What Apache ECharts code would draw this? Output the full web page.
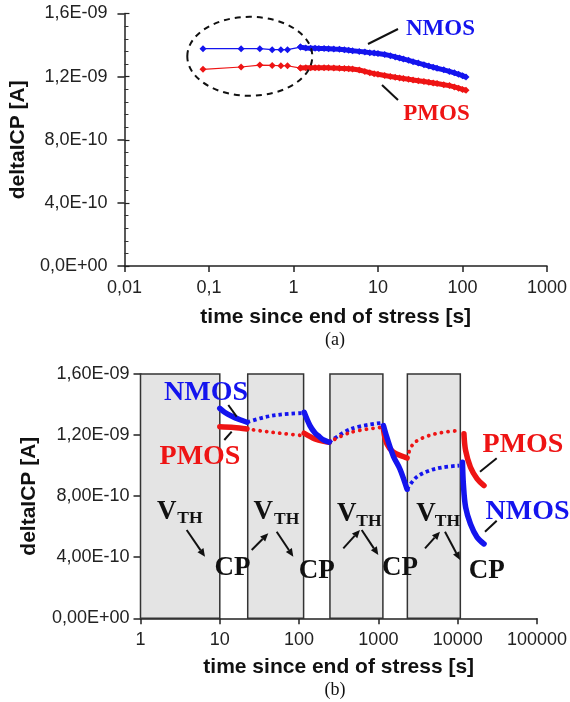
<!DOCTYPE html>
<html><head><meta charset="utf-8">
<script src="https://cdn.jsdelivr.net/npm/echarts@6/dist/echarts.min.js"></script>
<style>html,body{margin:0;padding:0;background:#fff}#c{width:570px;height:702px}</style>
</head><body><div id="c"></div>
<script>
// ---------- DATA (values in nA, i.e. units of 1E-09 A) ----------
// Panel (a)
const aSparseT   = [0.085, 0.24, 0.40, 0.56, 0.71, 0.85, 1.21];
const aNmosSparse = [1.377, 1.377, 1.377, 1.371, 1.371, 1.371, 1.387];
const aPmosSparse = [1.246, 1.261, 1.273, 1.271, 1.269, 1.269, 1.254];
const aDenseT    = [1.21, 1.4, 1.6, 1.8, 2, 2.3, 2.6, 3, 3.5, 4, 4.5, 5, 6, 7, 8, 9, 10, 12, 14, 16, 18, 20, 23, 26, 30, 35, 40, 45, 50, 60, 70, 80, 90, 100, 110];
const aNmosDense = [1.387, 1.381, 1.380, 1.380, 1.379, 1.378, 1.377, 1.375, 1.373, 1.370, 1.367, 1.364, 1.360, 1.356, 1.352, 1.349, 1.346, 1.340, 1.333, 1.325, 1.318, 1.312, 1.303, 1.295, 1.286, 1.276, 1.267, 1.260, 1.253, 1.243, 1.233, 1.224, 1.215, 1.206, 1.197];
const aPmosDense = [1.254, 1.256, 1.257, 1.257, 1.257, 1.257, 1.256, 1.255, 1.253, 1.252, 1.250, 1.248, 1.242, 1.233, 1.225, 1.219, 1.215, 1.207, 1.201, 1.196, 1.192, 1.188, 1.184, 1.179, 1.174, 1.169, 1.164, 1.160, 1.156, 1.149, 1.143, 1.135, 1.127, 1.119, 1.114];
const aXTicks = ['0,01', '0,1', '1', '10', '100', '1000'];

// Panel (b): measurement segments
const bNmosSolidT = [[10, 11.5, 14, 18, 22], [116, 137, 158, 174, 200, 240], [1160, 1280, 1550, 1880, 2300], [11500, 11800, 12600, 14500, 17600, 21500]];
const bNmosSolidV = [[1.375, 1.350, 1.325, 1.300, 1.284], [1.349, 1.262, 1.215, 1.196, 1.170, 1.153], [1.262, 1.185, 1.060, 0.975, 0.845], [1.022, 0.880, 0.727, 0.618, 0.530, 0.487]];
const bNmosDotT   = [[22, 36, 58, 115], [240, 450, 1100], [2300, 3000, 4400, 6500, 10500]];
const bNmosDotV   = [[1.284, 1.316, 1.334, 1.345], [1.153, 1.240, 1.280], [0.845, 0.923, 0.967, 0.989, 1.000]];
const bPmosSolidT = [[10, 15, 22], [116, 158, 220, 240], [1160, 1280, 1550, 2200, 2300], [12000, 12600, 14500, 17600, 21500]];
const bPmosSolidV = [[1.255, 1.250, 1.240], [1.212, 1.175, 1.155, 1.153], [1.235, 1.142, 1.087, 1.054, 1.050], [1.208, 1.098, 0.989, 0.913, 0.869]];
const bPmosDotT   = [[22, 36, 58, 115], [240, 450, 1100], [2300, 2750, 4000, 6500, 10500]];
const bPmosDotV   = [[1.240, 1.225, 1.212, 1.196], [1.153, 1.218, 1.251], [1.050, 1.142, 1.190, 1.218, 1.229]];
// shaded V_TH measurement windows (s)
const bWinStart = [1, 22.5, 245, 2320];
const bWinEnd   = [10, 114, 1140, 10800];

// ---------- helpers ----------
const BLUE = '#1414ee', RED = '#ee1414';
function fmtE(v, d) {
  const s = (v * 1e-9).toExponential(d);
  const parts = s.split('e');
  const n = parseInt(parts[1], 10);
  return parts[0].replace('.', ',') + 'E' + (n < 0 ? '-' : '+') + String(Math.abs(n)).padStart(2, '0');
}
function fmtT(v) { return String(Number(v.toPrecision(4))).replace('.', ','); }
function zip(t, v) { return t.map((x, i) => [x, v[i]]); }
const tickFont = {fontFamily: 'Liberation Sans', fontSize: 18, color: '#222'};
const titleFont = {fontFamily: 'Liberation Sans', fontSize: 21, fontWeight: 'bold', color: '#111'};

function xAxisLog(grid, min, max, gap) {
  return {type: 'log', gridIndex: grid, min: min, max: max, logBase: 10, splitNumber: 5,
    name: 'time since end of stress [s]', nameLocation: 'middle', nameGap: gap, nameTextStyle: titleFont,
    axisLine: {lineStyle: {color: '#222', width: 1.5}},
    axisTick: {length: 6, lineStyle: {color: '#222', width: 1.5}},
    axisLabel: Object.assign({margin: 13, formatter: fmtT}, tickFont),
    splitLine: {show: false}, minorTick: {show: false}, minorSplitLine: {show: false}};
}
function yAxisMain(grid, dec, gap, margin) {
  return {type: 'value', gridIndex: grid, min: 0, max: 1.6, interval: 0.4,
    name: 'deltaICP [A]', nameLocation: 'middle', nameGap: gap, nameTextStyle: titleFont,
    axisLine: {show: true, lineStyle: {color: '#222', width: 1.5}},
    axisTick: {show: true, length: 7, lineStyle: {color: '#222', width: 1.5}},
    axisLabel: Object.assign({margin: margin, formatter: v => fmtE(v, dec)}, tickFont),
    splitLine: {show: false}};
}
function yAxisMinor(grid) {
  return {type: 'value', gridIndex: grid, min: 0, max: 1.6, interval: 0.4, position: 'left',
    axisLine: {show: false}, axisLabel: {show: false}, splitLine: {show: false},
    axisTick: {show: true, inside: true, length: 5, lineStyle: {color: '#222', width: 1.2}},
    minorTick: {show: true, splitNumber: 5, length: 4, lineStyle: {color: '#333', width: 1}}};
}

const series = [];
// panel (a)
series.push({type: 'line', xAxisIndex: 0, yAxisIndex: 0, data: zip(aSparseT, aNmosSparse), symbol: 'diamond', symbolSize: 7,
  lineStyle: {color: BLUE, width: 1.2}, itemStyle: {color: BLUE}, z: 3});
series.push({type: 'line', xAxisIndex: 0, yAxisIndex: 0, data: zip(aSparseT, aPmosSparse), symbol: 'diamond', symbolSize: 7,
  lineStyle: {color: RED, width: 1.2}, itemStyle: {color: RED}, z: 3});
series.push({type: 'line', xAxisIndex: 0, yAxisIndex: 0, data: zip(aDenseT, aNmosDense), symbol: 'diamond', symbolSize: 7,
  lineStyle: {color: BLUE, width: 5}, itemStyle: {color: BLUE}, z: 3});
series.push({type: 'line', xAxisIndex: 0, yAxisIndex: 0, data: zip(aDenseT, aPmosDense), symbol: 'diamond', symbolSize: 7,
  lineStyle: {color: RED, width: 5}, itemStyle: {color: RED}, z: 3});

// panel (b) windows
series.push({type: 'line', xAxisIndex: 1, yAxisIndex: 2, data: [], silent: true,
  markArea: {silent: true, itemStyle: {color: '#e4e4e4', borderColor: '#333', borderWidth: 1.5},
    data: bWinStart.map((s, i) => [{xAxis: s, yAxis: 0}, {xAxis: bWinEnd[i], yAxis: 1.6}])}, z: 1});
function addSegs(T, V, color, solid) {
  T.forEach((t, i) => {
    series.push({type: 'line', xAxisIndex: 1, yAxisIndex: 2, data: zip(t, V[i]), symbol: 'none', smooth: 0.35, z: 4,
      lineStyle: solid ? {color: color, width: 5.5, cap: 'round'} :
        (color === RED ? {color: color, width: 3.8, type: [0.1, 6.5], cap: 'round'} : {color: color, width: 3.8, type: [3.5, 3], cap: 'butt'})});
  });
}
addSegs(bNmosDotT, bNmosDotV, BLUE, false);
addSegs(bPmosDotT, bPmosDotV, RED, false);
addSegs(bPmosSolidT, bPmosSolidV, RED, true);
addSegs(bNmosSolidT, bNmosSolidV, BLUE, true);

// ---------- annotations ----------
const serif = s => 'bold ' + s + 'px "Liberation Serif"';
function txt(x, y, text, size, color) {
  return {type: 'text', x: x, y: y, z: 10, style: {text: text, font: serif(size), fill: color, align: 'center', verticalAlign: 'middle'}};
}
function seg(x1, y1, x2, y2) {
  return {type: 'line', z: 10, shape: {x1: x1, y1: y1, x2: x2, y2: y2}, style: {stroke: '#111', lineWidth: 2}};
}
function arrow(x1, y1, x2, y2) {
  const a = Math.atan2(y2 - y1, x2 - x1), L = 8, W = 3.6;
  const bx = x2 - L * Math.cos(a), by = y2 - L * Math.sin(a);
  const px = -Math.sin(a) * W, py = Math.cos(a) * W;
  return [seg(x1, y1, bx, by),
    {type: 'polygon', z: 10, shape: {points: [[x2, y2], [bx + px, by + py], [bx - px, by - py]]}, style: {fill: '#111'}}];
}
const graphic = [
  {type: 'ellipse', z: 10, shape: {cx: 249.8, cy: 56.3, rx: 62.5, ry: 39.5}, style: {fill: 'none', stroke: '#111', lineWidth: 2, lineDash: [6, 5]}},
  txt(440.5, 29, 'NMOS', 23, BLUE), txt(436.5, 114, 'PMOS', 23, RED),
  seg(368, 44, 398, 29), seg(382, 85, 398, 100),
  {type: 'text', x: 335, y: 340, z: 10, style: {text: '(a)', font: '18px "Liberation Serif"', fill: '#111', align: 'center', verticalAlign: 'middle'}},
  {type: 'text', x: 335, y: 690, z: 10, style: {text: '(b)', font: '18px "Liberation Serif"', fill: '#111', align: 'center', verticalAlign: 'middle'}},
  txt(206, 393, 'NMOS', 28, BLUE), txt(200, 457, 'PMOS', 28, RED),
  seg(228.3, 405, 236.7, 416.7), seg(224.3, 440, 231.7, 431.7),
  txt(523, 445, 'PMOS', 28, RED), txt(527.5, 512, 'NMOS', 28, BLUE),
  seg(480, 471.7, 496.7, 458.3), seg(485, 531.7, 496.7, 520.7),
  txt(166.7, 512, 'V', 27, '#111'), txt(190, 518.5, 'TH', 17.5, '#111'),
  txt(263.3, 512, 'V', 27, '#111'), txt(286.7, 519, 'TH', 17.5, '#111'),
  txt(346.7, 514, 'V', 27, '#111'), txt(369, 521, 'TH', 17.5, '#111'),
  txt(426, 514, 'V', 27, '#111'), txt(447.5, 521, 'TH', 17.5, '#111'),
  txt(232.5, 568, 'CP', 27, '#111'), txt(316.7, 571, 'CP', 27, '#111'),
  txt(400, 568, 'CP', 27, '#111'), txt(486.7, 571, 'CP', 27, '#111')
].concat(arrow(186.7, 530, 205, 556.7), arrow(251.7, 550, 268.3, 533.3), arrow(276.7, 531.7, 293.3, 556.7),
  arrow(343.3, 548.3, 360, 530), arrow(361.7, 530, 378.3, 555), arrow(425, 548.3, 440, 531.7), arrow(445, 531.7, 460, 560));

const chart = echarts.init(document.getElementById('c'), null, {renderer: 'canvas'});
chart.setOption({
  animation: false,
  backgroundColor: '#fff',
  grid: [
    {left: 119, width: 431, top: 13.5, height: 252.5},
    {left: 140.5, width: 402, top: 374, height: 244.3}
  ],
  xAxis: [xAxisLog(0, 0.01, 1000, 41), xAxisLog(1, 1, 100000, 38)],
  yAxis: [yAxisMain(0, 1, 90, 17), yAxisMinor(0), yAxisMain(1, 2, 101, 11)],
  series: series,
  graphic: graphic
});
</script></body></html>
